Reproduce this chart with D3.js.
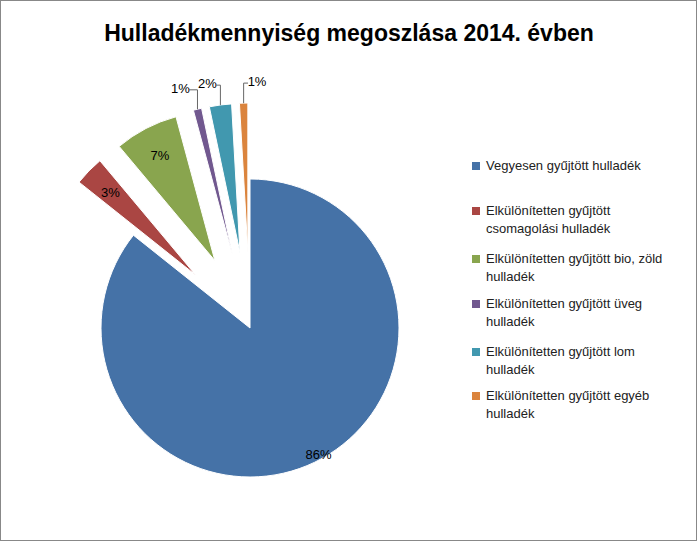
<!DOCTYPE html>
<html><head><meta charset="utf-8">
<script src="https://cdn.jsdelivr.net/npm/d3@7.9.0/dist/d3.min.js"></script>
<style>body{margin:0;background:#fff}text{font-family:"Liberation Sans",Arial,sans-serif}</style>
</head><body>
<svg id="c" width="697" height="541"></svg>
<script>
const legendLines = [
  ['Vegyesen gyűjtött hulladék'],
  ['Elkülönítetten gyűjtött', 'csomagolási hulladék'],
  ['Elkülönítetten gyűjtött bio, zöld', 'hulladék'],
  ['Elkülönítetten gyűjtött üveg', 'hulladék'],
  ['Elkülönítetten gyűjtött lom', 'hulladék'],
  ['Elkülönítetten gyűjtött egyéb', 'hulladék']
];
const values = [85.7, 3.2, 6.9, 0.9, 2.4, 0.9];
const labels = ['86%', '3%', '7%', '1%', '2%', '1%'];
const colors = ['#4572A7', '#AA4643', '#89A54E', '#71588F', '#4198AF', '#DB843D'];

const svg = d3.select('#c');
svg.append('rect').attr('x', 0.5).attr('y', 0.5).attr('width', 696).attr('height', 540)
  .attr('fill', '#fff').attr('stroke', '#888');
svg.append('text').attr('x', 349).attr('y', 41).attr('text-anchor', 'middle')
  .attr('font-size', 23).attr('font-weight', 'bold').text('Hulladékmennyiség megoszlása 2014. évben');

const cx = 250, cy = 328, r = 149, explode = 76;
const pie = d3.pie().sort(null).value((d) => d);
const arcs = pie(values);
const arc = d3.arc().innerRadius(0).outerRadius(r);
const g = svg.append('g').attr('transform', `translate(${cx},${cy})`);

arcs.forEach((d, i) => {
  const mid = (d.startAngle + d.endAngle) / 2;
  const off = i === 0 ? 0 : explode;
  const dx = Math.sin(mid) * off, dy = -Math.cos(mid) * off;
  g.append('path').attr('d', arc(d)).attr('fill', colors[i])
    .attr('stroke', '#fff').attr('stroke-width', 1)
    .attr('transform', `translate(${dx},${dy})`);
  if (i === 0) {
    const c = d3.arc().innerRadius(r * 0.75).outerRadius(r * 0.75).centroid(d);
    g.append('text').attr('x', c[0] + 20).attr('y', c[1] + 30).attr('text-anchor', 'middle')
      .attr('font-size', 13).text(labels[i]);
  } else if (i === 1 || i === 2) {
    const rr = off + r - 30;
    g.append('text').attr('x', Math.sin(mid) * rr).attr('y', -Math.cos(mid) * rr + 5)
      .attr('text-anchor', 'middle').attr('font-size', 13).text(labels[i]);
  } else {
    const rr = off + r + 22;
    let lx = Math.sin(mid) * rr, ly = -Math.cos(mid) * rr;
    if (i === 3) lx -= 12;
    if (i === 4) lx -= 10;
    if (i === 5) lx += 14;
    const ex = Math.sin(mid) * (off + r), ey = -Math.cos(mid) * (off + r);
    g.append('path').attr('fill', 'none').attr('stroke', '#666')
      .attr('d', `M${ex},${ey}L${ex},${ly + 2}L${lx + (i === 5 ? -9 : 9)},${ly + 2}`);
    g.append('text').attr('x', lx).attr('y', ly + 5).attr('text-anchor', 'middle')
      .attr('font-size', 13).text(labels[i]);
  }
});

const lg = svg.append('g');
const ys = [170, 215, 263, 308, 356, 400];
legendLines.forEach((lines, i) => {
  lg.append('rect').attr('x', 472).attr('y', ys[i] - 8).attr('width', 8).attr('height', 8).attr('fill', colors[i]);
  lines.forEach((t, j) => {
    lg.append('text').attr('x', 486).attr('y', ys[i] + j * 18).attr('font-size', 13).attr('fill', '#222').text(t);
  });
});
</script>
</body></html>
